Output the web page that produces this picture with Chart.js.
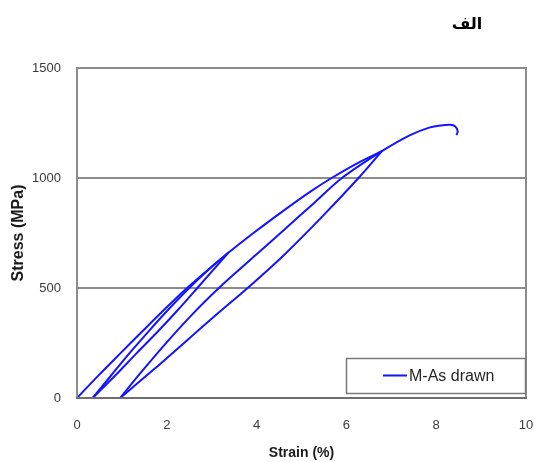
<!DOCTYPE html>
<html>
<head>
<meta charset="utf-8">
<script src="https://cdn.jsdelivr.net/npm/chart.js@4.4.1/dist/chart.umd.min.js"></script>
<style>
  html, body { margin: 0; padding: 0; background: #ffffff; }
  #wrap { width: 540px; height: 462px; position: relative; }
</style>
</head>
<body>
<div id="wrap"><canvas id="c" width="540" height="462"></canvas></div>
<script>
// ---- texts ----
const panelTitle = 'الف';
const seriesLabel = 'M-As drawn';
const xTitle = 'Strain (%)';
const yTitle = 'Stress (MPa)';
const xTicks = [0, 2, 4, 6, 8, 10];
const yTicks = [0, 500, 1000, 1500];

// ---- branches of the cyclic stress-strain curve, in test order ----
// 1st loading
const load1Strain = [0, 0.48, 0.97, 1.45, 1.94, 2.45, 2.93, 3.37];
const load1Stress = [0, 103, 204, 302, 401, 500, 585, 660];
// 1st unloading
const unload1Strain = [3.37, 2.68, 2.25, 1.80, 1.33, 0.84, 0.35];
const unload1Stress = [660, 500, 401, 302, 204, 100, 0];
// 2nd loading (through first peak up to second peak)
const load2Strain = [0.35, 0.75, 1.17, 1.59, 2.03, 2.50, 2.94, 3.37, 3.93, 4.67, 5.19, 5.67, 6.25, 6.79];
const load2Stress = [0, 100, 204, 302, 401, 500, 585, 660, 750, 862, 937, 1000, 1068, 1122];
// 2nd unloading
const unload2Strain = [6.79, 6.27, 5.45, 4.6, 3.80, 3.1, 2.41, 1.7, 0.96];
const unload2Stress = [1122, 1000, 822, 648, 500, 378, 255, 128, 0];
// 3rd loading up to failure
const load3Strain = [0.96, 1.42, 1.92, 2.52, 3.16, 4.0, 4.67, 5.3, 5.9, 6.79, 7.42, 7.86, 8.1, 8.31, 8.42, 8.48, 8.45];
const load3Stress = [0, 115, 235, 370, 500, 653, 775, 890, 1000, 1122, 1195, 1230, 1239, 1242, 1235, 1212, 1195];

const LINE = '#1414ff';
function branch(xs, ys) {
  return {
    label: seriesLabel,
    data: xs.map((x, i) => ({ x: x, y: ys[i] })),
    borderColor: LINE,
    backgroundColor: LINE,
    borderWidth: 2,
    pointRadius: 0,
    tension: 0.3,
    fill: false
  };
}

const frameAndLegend = {
  id: 'frameAndLegend',
  afterDraw(chart) {
    const ctx = chart.ctx;
    const a = chart.chartArea;
    ctx.save();
    // plot frame
    ctx.strokeStyle = '#8c8c8c';
    ctx.lineWidth = 2;
    ctx.beginPath();
    ctx.moveTo(a.left, a.bottom);
    ctx.lineTo(a.left, a.top);
    ctx.lineTo(a.right, a.top);
    ctx.lineTo(a.right, a.bottom);
    ctx.stroke();
    ctx.strokeStyle = '#6e6e6e';
    ctx.beginPath();
    ctx.moveTo(a.left - 1, a.bottom);
    ctx.lineTo(a.right + 1, a.bottom);
    ctx.stroke();
    // legend box (single entry)
    const ds = chart.data.datasets[0];
    const bw = 179, bh = 35;
    const bx = a.right - bw - 1, by = a.bottom - 5 - bh;
    ctx.fillStyle = '#ffffff';
    ctx.fillRect(bx, by, bw, bh);
    ctx.strokeStyle = '#7a7a7a';
    ctx.lineWidth = 1.5;
    ctx.strokeRect(bx + 0.5, by + 0.5, bw, bh);
    const ly = by + bh / 2;
    ctx.strokeStyle = ds.borderColor;
    ctx.lineWidth = 2;
    ctx.beginPath();
    ctx.moveTo(bx + 37, ly);
    ctx.lineTo(bx + 61, ly);
    ctx.stroke();
    ctx.fillStyle = '#262626';
    ctx.font = '16px "Liberation Sans", Arial, sans-serif';
    ctx.textAlign = 'left';
    ctx.textBaseline = 'middle';
    ctx.fillText(ds.label, bx + 63, ly + 1);
    // panel title
    ctx.fillStyle = '#000000';
    ctx.font = 'bold 16px "DejaVu Sans", sans-serif';
    ctx.textAlign = 'center';
    ctx.direction = 'rtl';
    ctx.fillText(panelTitle, 467, 25);
    ctx.restore();
  }
};

new Chart(document.getElementById('c'), {
  type: 'line',
  data: {
    datasets: [
      branch(load1Strain, load1Stress),
      branch(unload1Strain, unload1Stress),
      branch(load2Strain, load2Stress),
      branch(unload2Strain, unload2Stress),
      branch(load3Strain, load3Stress)
    ]
  },
  options: {
    responsive: false,
    animation: false,
    layout: { padding: { top: 68, right: 14, left: 0, bottom: 0 } },
    plugins: {
      legend: { display: false },
      title: { display: false },
      tooltip: { enabled: false }
    },
    scales: {
      x: {
        type: 'linear',
        min: xTicks[0],
        max: xTicks[xTicks.length - 1],
        afterBuildTicks(s) { s.ticks = xTicks.map(v => ({ value: v })); },
        afterFit(s) { s.height = 64; },
        grid: { display: false, drawTicks: true, tickLength: 17 },
        border: { display: false },
        ticks: {
          padding: 3,
          color: '#3a3a3a',
          callback: v => String(v),
          font: { family: '"Liberation Sans", Arial, sans-serif', size: 13 }
        },
        title: {
          display: true,
          text: xTitle,
          color: '#1a1a1a',
          padding: { top: 0, bottom: 0 },
          font: { family: '"Liberation Sans", Arial, sans-serif', size: 14, weight: 'bold' }
        }
      },
      y: {
        type: 'linear',
        min: yTicks[0],
        max: yTicks[yTicks.length - 1],
        afterBuildTicks(s) { s.ticks = yTicks.map(v => ({ value: v })); },
        afterFit(s) { s.width = 77; },
        grid: { color: '#8c8c8c', lineWidth: 2, drawTicks: false },
        border: { display: false },
        ticks: {
          padding: 16,
          color: '#3a3a3a',
          callback: v => String(v),
          font: { family: '"Liberation Sans", Arial, sans-serif', size: 13 }
        },
        title: {
          display: true,
          text: yTitle,
          color: '#1a1a1a',
          padding: { top: 9, bottom: 0 },
          font: { family: '"Liberation Sans", Arial, sans-serif', size: 16, weight: 'bold' }
        }
      }
    }
  },
  plugins: [frameAndLegend]
});
</script>
</body>
</html>
